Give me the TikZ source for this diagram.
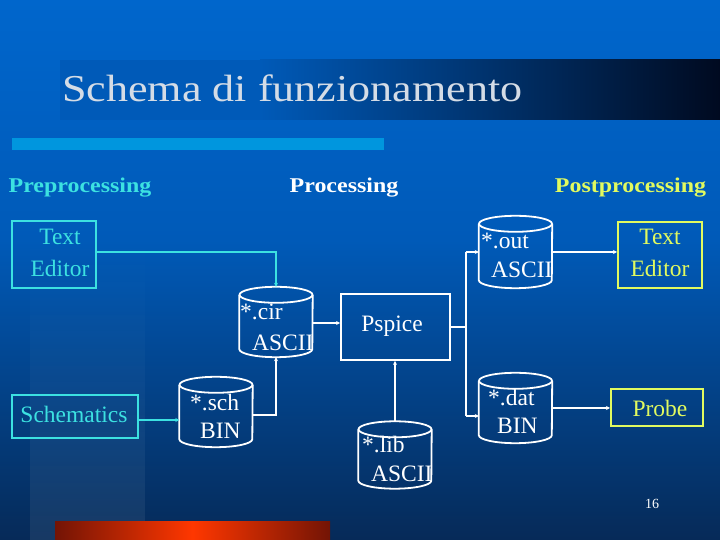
\documentclass[tikz,border=0pt]{standalone}
\usepackage{fontspec}
\usepackage{graphicx}
\setmainfont{Liberation Serif}
\usetikzlibrary{arrows.meta,fadings}
\definecolor{bgtop}{RGB}{0,102,204}
\definecolor{bgmid}{RGB}{0,90,184}
\definecolor{bgbot}{RGB}{6,42,88}
\definecolor{bandL}{RGB}{0,90,184}
\definecolor{bandR}{RGB}{0,10,32}
\definecolor{lightbar}{RGB}{0,150,222}
\definecolor{redmid}{RGB}{255,55,0}
\definecolor{redend}{RGB}{115,20,5}
\definecolor{cyanc}{RGB}{60,225,225}
\definecolor{yellowc}{RGB}{225,250,95}
\definecolor{titlegrey}{RGB}{212,220,230}
\newcommand\cylout[1]{%
  \draw[cylline] ([yshift=-8pt]#1.north west) -- ([yshift=8pt]#1.south west)
    arc[start angle=180,end angle=360,x radius=36.5pt,y radius=8pt]
    -- ([yshift=-8pt]#1.north east);
  \draw[cylline] ([yshift=-8pt]#1.north) ellipse[x radius=36.5pt,y radius=8pt];}
\begin{document}
\begin{tikzpicture}[x=1pt,y=1pt,
  txt/.style={font=\fontsize{23.5}{26}\selectfont, inner sep=0pt},
  hdr/.style={font=\bfseries\fontsize{21}{23}\selectfont, inner sep=0pt, anchor=base},
  cbox/.style={draw=cyanc, line width=2pt, inner sep=0pt},
  ybox/.style={draw=yellowc, line width=2pt, inner sep=0pt},
  wbox/.style={draw=white, line width=1.8pt, inner sep=0pt},
  cylnode/.style={rectangle, inner sep=0pt, minimum width=73pt, minimum height=70pt},
  cylline/.style={draw=white, line width=1.8pt},
  conw/.style={draw=white, line width=1.6pt, -{Stealth[length=4pt,width=4pt]}},
  conwplain/.style={draw=white, line width=1.6pt},
  conc/.style={draw=cyanc, line width=2pt, -{Stealth[length=4pt,width=4pt]}}]
\useasboundingbox (0,0) rectangle (720,540);
% background
\shade[top color=bgtop, bottom color=bgmid] (0,299.5) rectangle (720,540);
\shade[top color=bgmid, bottom color=bgbot] (0,0) rectangle (720,300);
\fill[white, opacity=0.07, path fading=north] (30,0) rectangle (145,300);
% title band
\fill[bandL] (60,420) rectangle (261,480);
\shade[left color=bandL, right color=bandR] (260,420) rectangle (720,480);
\node[anchor=base west, text=titlegrey, inner sep=0pt, font=\fontsize{38}{40}\selectfont] (title) at (62,438) {\scalebox{1.16}[1]{Schema di funzionamento}};
\fill[lightbar] (12,390) rectangle (384,402);
% red bar
\shade[left color=redend, right color=redend, middle color=redmid] (55,0) rectangle (330,18);
% headers
\node[hdr, text=cyanc] (h1) at (80,347) {\scalebox{1.14}[1]{Preprocessing}};
\node[hdr, text=white] (h2) at (344,347) {\scalebox{1.14}[1]{Processing}};
\node[hdr, text=yellowc] (h3) at (630.5,347) {\scalebox{1.14}[1]{Postprocessing}};
% boxes
\node[cbox, minimum width=84pt, minimum height=67pt] (teL) at (54,285.5) {};
\node[txt, anchor=base, text=cyanc] (teLa) at (60,295) {Text};
\node[txt, anchor=base, text=cyanc] (teLb) at (60,263) {Editor};
\node[cbox, minimum width=126pt, minimum height=43pt] (schem) at (75,123.5) {};
\node[txt, anchor=base, text=cyanc] (schemt) at (74,117) {Schematics};
\node[wbox, minimum width=109pt, minimum height=66pt] (psp) at (395.5,213) {};
\node[txt, anchor=base, text=white] (pspt) at (392,208) {Pspice};
\node[ybox, minimum width=84pt, minimum height=66pt] (teR) at (660,285) {};
\node[txt, anchor=base, text=yellowc] (teRa) at (660,295) {Text};
\node[txt, anchor=base, text=yellowc] (teRb) at (660,263) {Editor};
\node[ybox, minimum width=92pt, minimum height=37pt] (probe) at (657,132.5) {};
\node[txt, anchor=base, text=yellowc] (probet) at (660,123) {Probe};
% cylinders
\node[cylnode] (cir) at (276,218) {};
\node[cylnode] (sch) at (216,128) {};
\node[cylnode, minimum height=67pt] (lib) at (395,85) {};
\node[cylnode, minimum height=72pt] (out) at (515.5,288) {};
\node[cylnode] (dat) at (515.5,132) {};
\cylout{cir}\cylout{sch}\cylout{lib}\cylout{out}\cylout{dat}
\node[txt, anchor=base west, text=white] (cira) at (240,220) {*.cir};
\node[txt, anchor=base west, text=white] (cirb) at (252,189) {ASCII};
\node[txt, anchor=base west, text=white] (outa) at (481,291) {*.out};
\node[txt, anchor=base west, text=white] (outb) at (491,262) {ASCII};
\node[txt, anchor=base west, text=white] (scha) at (190,129) {*.sch};
\node[txt, anchor=base west, text=white] (schb) at (200,101) {BIN};
\node[txt, anchor=base west, text=white] (liba) at (362,87) {*.lib};
\node[txt, anchor=base west, text=white] (libb) at (371,58) {ASCII};
\node[txt, anchor=base west, text=white] (data) at (488,134) {*.dat};
\node[txt, anchor=base west, text=white] (datb) at (497,106) {BIN};
% page number
\node[anchor=base, text=white, inner sep=0pt, font=\fontsize{14}{16}\selectfont] (pg) at (652,31) {16};
% connectors
\draw[conc] ([yshift=2.5pt]teL.east) -| (cir.north);
\draw[conc] ([yshift=-3.5pt]schem.east) -- ([yshift=-3.5pt]schem.east -| sch.west);
\draw[conw] ([yshift=-3pt]sch.east) -| (cir.south);
\draw[conw] ([yshift=-1pt]cir.east) -- ([yshift=-1pt]cir.east -| psp.west);
\draw[conw] (lib.north) -- (lib.north |- psp.south);
\draw[conwplain] (psp.east) -- ++(15,0) coordinate (j);
\draw[conw] ([yshift=75pt]j) -- ([yshift=75pt]j -| out.west);
\draw[conwplain] ([yshift=75pt]j) -- ([yshift=-89pt]j);
\draw[conw] ([yshift=-89pt]j) -- ([yshift=-89pt]j -| dat.west);
\draw[conw] (out.east) -- (out.east -| teR.west);
\draw[conw] (dat.east) -- (dat.east -| probe.west);
\end{tikzpicture}
\end{document}
